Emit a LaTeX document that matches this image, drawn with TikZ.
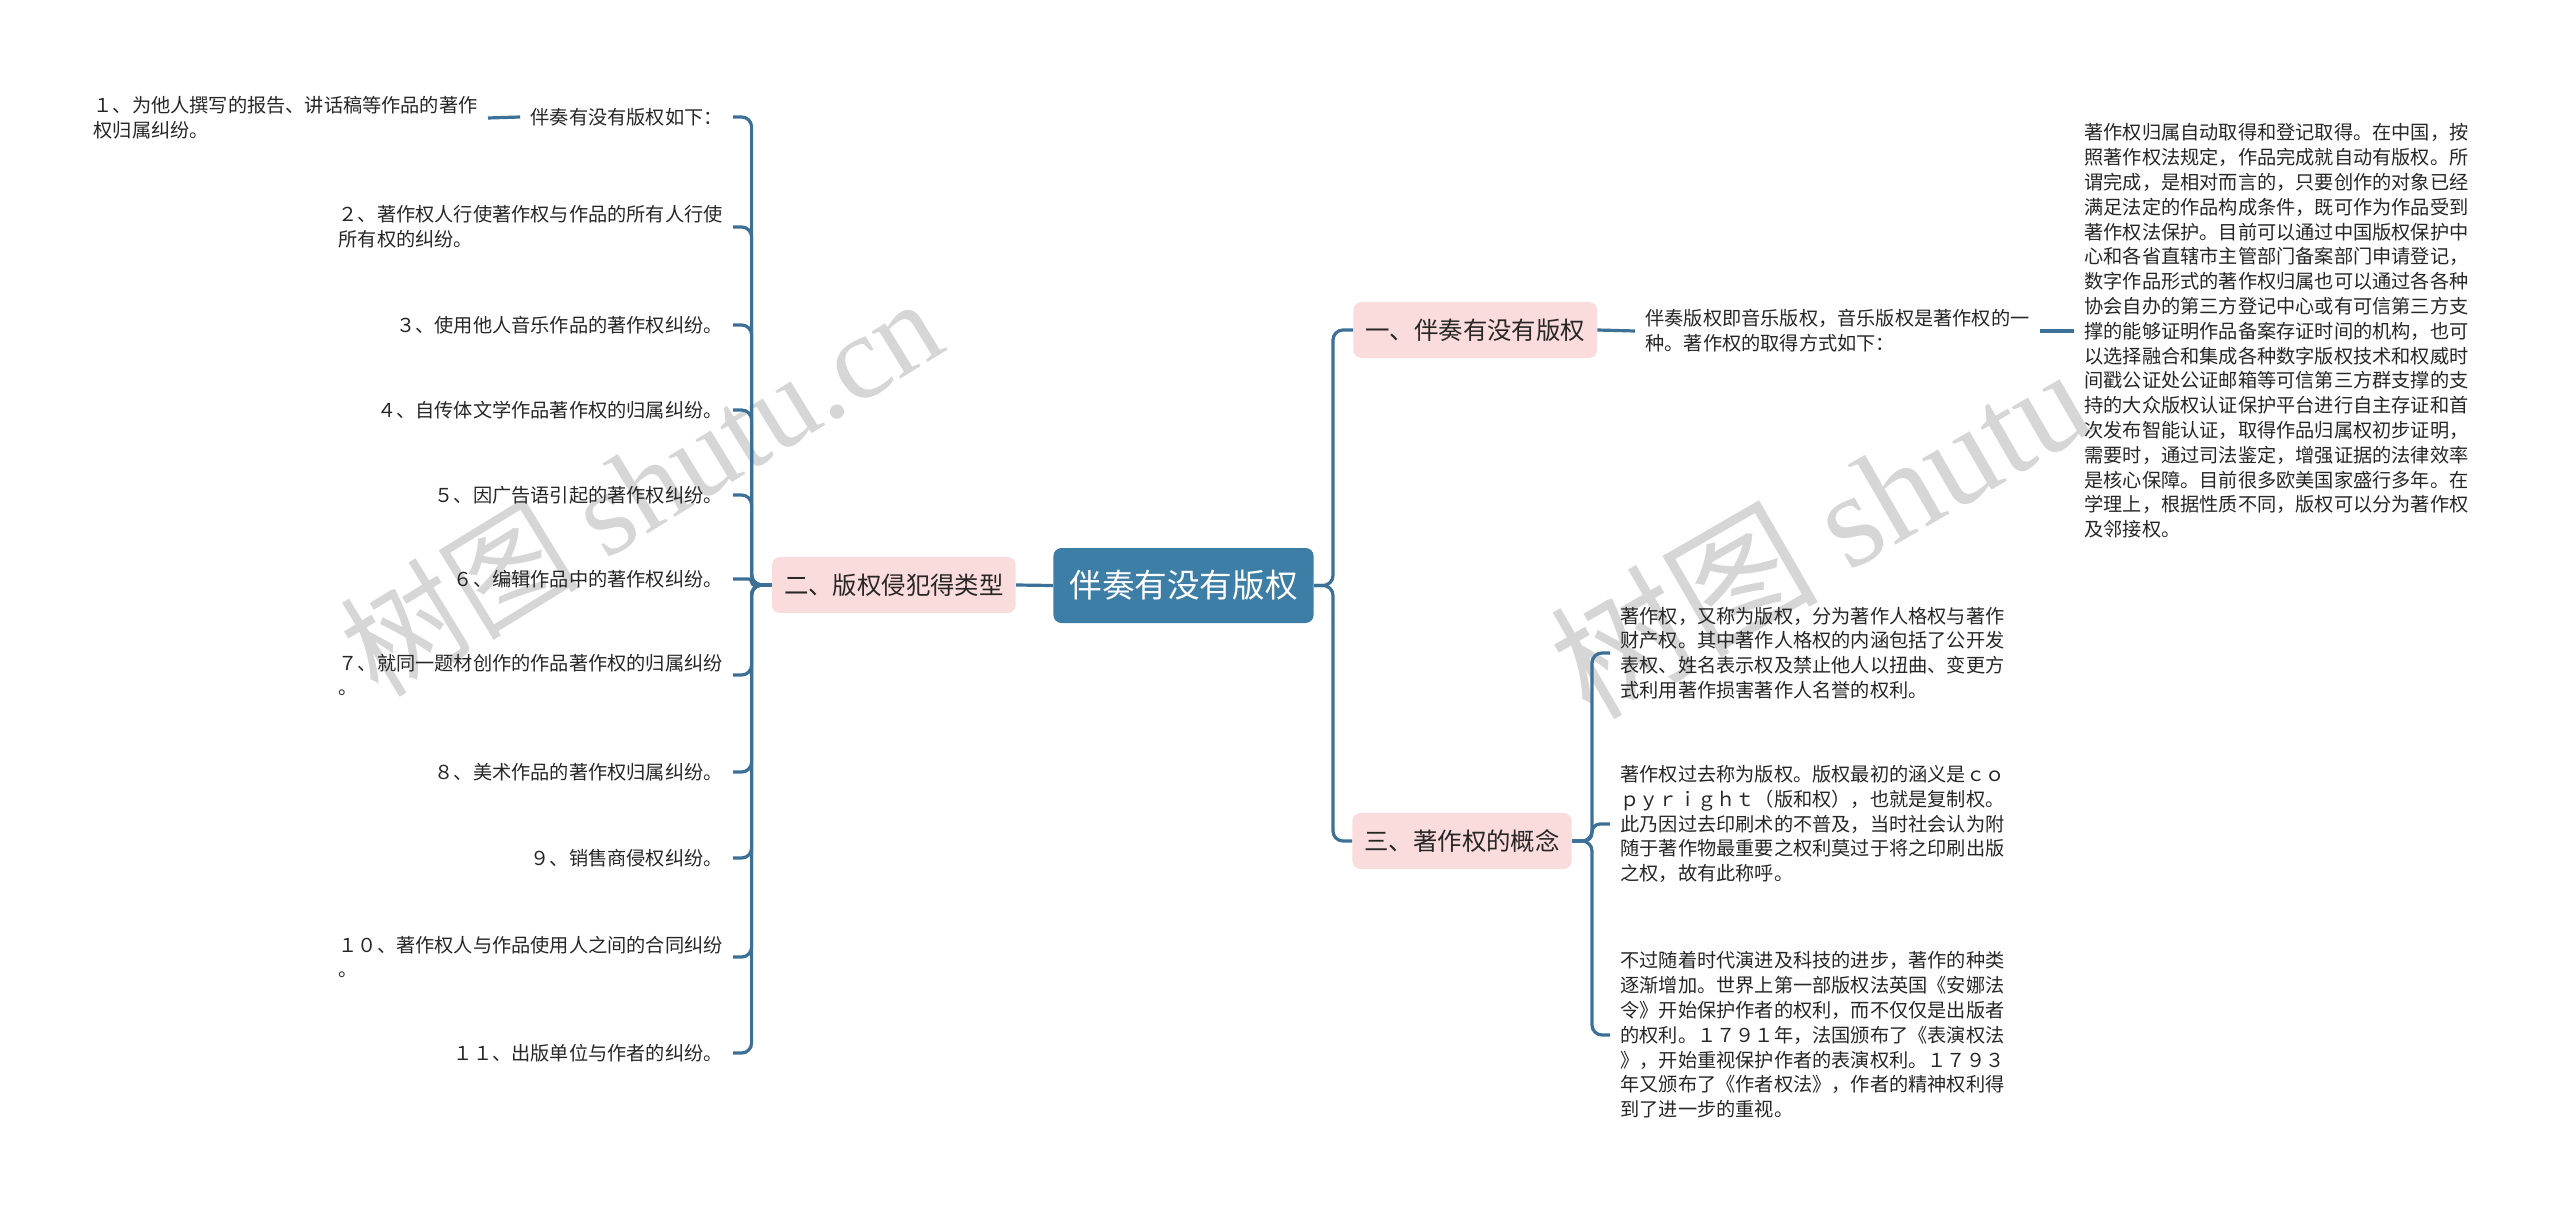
\documentclass[tikz,border=0pt]{standalone}
\usepackage{fontspec}
\setmainfont{Noto Sans CJK SC}
\newfontfamily\wmlatin{Liberation Serif}
\usepackage{xcolor}
\definecolor{rootblue}{HTML}{3D7EA6}
\definecolor{linkblue}{HTML}{3C7096}
\definecolor{topicpink}{HTML}{FBDCDC}
\definecolor{wmgray}{HTML}{D6D6D6}
\definecolor{leaftext}{HTML}{262626}
\tikzset{
  root/.style={fill=rootblue, text=white, rounded corners=4pt, minimum height=37.5pt,
    inner xsep=8pt, font=\fontsize{16.3pt}{18pt}\selectfont},
  topic/.style={fill=topicpink, text=black!85, rounded corners=4pt, minimum height=28pt,
    inner xsep=6pt, font=\fontsize{12.2pt}{14pt}\selectfont},
  leaf/.style={text=leaftext, align=left, inner xsep=5pt, inner ysep=2pt,
    font=\fontsize{9.6pt}{12.4pt}\selectfont},
  link/.style={draw=linkblue, line width=1.6pt, rounded corners=5pt},
  watermark/.style={text=wmgray, inner sep=0pt}
}

\begin{document}
\begin{tikzpicture}[x=0.5pt, y=-0.5pt]
\useasboundingbox (0,0) rectangle (2560,1209);
% watermarks
\node[watermark, rotate=31.5, anchor=base west, font=\fontsize{60pt}{60pt}\selectfont] (wm1) at (378,700) {树图 {\wmlatin shutu.cn}};
\node[watermark, rotate=30, anchor=base west, font=\fontsize{67pt}{67pt}\selectfont] (wm2) at (1590,722) {树图 {\wmlatin shutu}};

% centre and main branches
\node[root] (root) at (1183.5,585.5) {伴奏有没有版权};
\node[topic, anchor=east] (t2) at (1016,585) {二、版权侵犯得类型};
\node[topic, anchor=west] (t1) at (1353,330) {一、伴奏有没有版权};
\node[topic, anchor=west] (t3) at (1352,841) {三、著作权的概念};

% left side
\node[leaf, anchor=east] (l1) at (733,117) {伴奏有没有版权如下：};
\node[leaf, anchor=east] (l1a) at (488,118) {１、为他人撰写的报告、讲话稿等作品的著作\\权归属纠纷。};
\node[leaf, anchor=east] (l2) at (733,227) {２、著作权人行使著作权与作品的所有人行使\\所有权的纠纷。};
\node[leaf, anchor=east] (l3) at (733,325) {３、使用他人音乐作品的著作权纠纷。};
\node[leaf, anchor=east] (l4) at (733,410) {４、自传体文学作品著作权的归属纠纷。};
\node[leaf, anchor=east] (l5) at (733,495) {５、因广告语引起的著作权纠纷。};
\node[leaf, anchor=east] (l6) at (733,579) {６、编辑作品中的著作权纠纷。};
\node[leaf, anchor=east] (l7) at (733,675) {７、就同一题材创作的作品著作权的归属纠纷\\。};
\node[leaf, anchor=east] (l8) at (733,772) {８、美术作品的著作权归属纠纷。};
\node[leaf, anchor=east] (l9) at (733,858) {９、销售商侵权纠纷。};
\node[leaf, anchor=east] (l10) at (733,957) {１０、著作权人与作品使用人之间的合同纠纷\\。};
\node[leaf, anchor=east] (l11) at (733,1053) {１１、出版单位与作者的纠纷。};

% right side
\node[leaf, anchor=west] (r1) at (1635,331) {伴奏版权即音乐版权，音乐版权是著作权的一\\种。著作权的取得方式如下：};
\node[leaf, anchor=west] (r1a) at (2074,331) {著作权归属自动取得和登记取得。在中国，按\\
照著作权法规定，作品完成就自动有版权。所\\
谓完成，是相对而言的，只要创作的对象已经\\
满足法定的作品构成条件，既可作为作品受到\\
著作权法保护。目前可以通过中国版权保护中\\
心和各省直辖市主管部门备案部门申请登记，\\
数字作品形式的著作权归属也可以通过各各种\\
协会自办的第三方登记中心或有可信第三方支\\
撑的能够证明作品备案存证时间的机构，也可\\
以选择融合和集成各种数字版权技术和权威时\\
间戳公证处公证邮箱等可信第三方群支撑的支\\
持的大众版权认证保护平台进行自主存证和首\\
次发布智能认证，取得作品归属权初步证明，\\
需要时，通过司法鉴定，增强证据的法律效率\\
是核心保障。目前很多欧美国家盛行多年。在\\
学理上，根据性质不同，版权可以分为著作权\\
及邻接权。};
\node[leaf, anchor=west] (r3a) at (1610,653) {著作权，又称为版权，分为著作人格权与著作\\
财产权。其中著作人格权的内涵包括了公开发\\
表权、姓名表示权及禁止他人以扭曲、变更方\\
式利用著作损害著作人名誉的权利。};
\node[leaf, anchor=west] (r3b) at (1610,824) {著作权过去称为版权。版权最初的涵义是ｃｏ\\
ｐｙｒｉｇｈｔ（版和权），也就是复制权。\\
此乃因过去印刷术的不普及，当时社会认为附\\
随于著作物最重要之权利莫过于将之印刷出版\\
之权，故有此称呼。};
\node[leaf, anchor=west] (r3c) at (1610,1035) {不过随着时代演进及科技的进步，著作的种类\\
逐渐增加。世界上第一部版权法英国《安娜法\\
令》开始保护作者的权利，而不仅仅是出版者\\
的权利。１７９１年，法国颁布了《表演权法\\
》，开始重视保护作者的表演权利。１７９３\\
年又颁布了《作者权法》，作者的精神权利得\\
到了进一步的重视。};

% connectors
\draw[link] (root.west) -- (t2.east);
\draw[link] (root.east) -- ([xshift=9.5pt]root.east) |- (t1.west);
\draw[link] (root.east) -- ([xshift=9.5pt]root.east) |- (t3.west);
\draw[link] (t2.west) -- ([xshift=-10pt]t2.west) |- (l1.east);
\draw[link] (t2.west) -- ([xshift=-10pt]t2.west) |- (l2.east);
\draw[link] (t2.west) -- ([xshift=-10pt]t2.west) |- (l3.east);
\draw[link] (t2.west) -- ([xshift=-10pt]t2.west) |- (l4.east);
\draw[link] (t2.west) -- ([xshift=-10pt]t2.west) |- (l5.east);
\draw[link, rounded corners=1.5pt] (t2.west) -- ([xshift=-10pt]t2.west) |- (l6.east);
\draw[link] (t2.west) -- ([xshift=-10pt]t2.west) |- (l7.east);
\draw[link] (t2.west) -- ([xshift=-10pt]t2.west) |- (l8.east);
\draw[link] (t2.west) -- ([xshift=-10pt]t2.west) |- (l9.east);
\draw[link] (t2.west) -- ([xshift=-10pt]t2.west) |- (l10.east);
\draw[link] (t2.west) -- ([xshift=-10pt]t2.west) |- (l11.east);
\draw[link] (l1.west) -- (l1a.east);
\draw[link] (t1.east) -- (r1.west);
\draw[link] (r1.east) -- (r1a.west);
\draw[link] (t3.east) -- ([xshift=10pt]t3.east) |- (r3a.west);
\draw[link, rounded corners=4pt] (t3.east) -- ([xshift=10pt]t3.east) |- (r3b.west);
\draw[link] (t3.east) -- ([xshift=10pt]t3.east) |- (r3c.west);
\end{tikzpicture}
\end{document}
